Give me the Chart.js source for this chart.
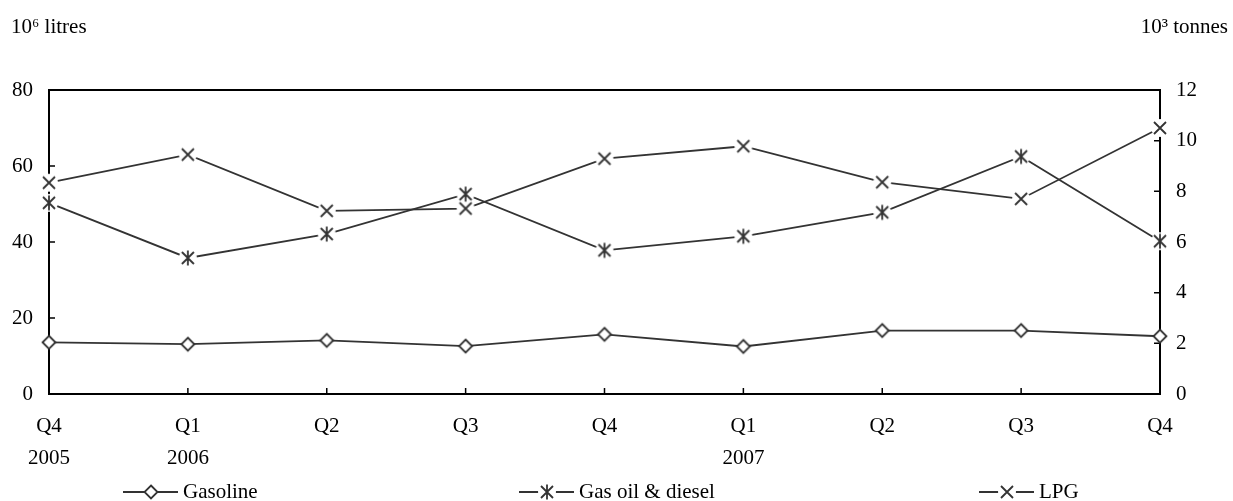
<!DOCTYPE html>
<html>
<head>
<meta charset="utf-8">
<script src="https://cdn.jsdelivr.net/npm/chart.js@4.4.0/dist/chart.umd.min.js"></script>
<style>
  html, body { margin: 0; padding: 0; background: #fff; }
</style>
</head>
<body>
<canvas id="chart" width="1233" height="501"></canvas>
<script>
// Quarterly sales, Q4 2005 - Q4 2007
const quarters = ["Q4", "Q1", "Q2", "Q3", "Q4", "Q1", "Q2", "Q3", "Q4"];
const years = ["2005", "2006", "", "", "", "2007", "", "", ""];
const gasoline = [13.6, 13.1, 14.1, 12.6, 15.7, 12.5, 16.7, 16.7, 15.2];
const gasOilDiesel = [50.3, 35.8, 42.1, 52.6, 37.8, 41.5, 47.8, 62.5, 40.2];
const lpg = [8.34, 9.45, 7.23, 7.32, 9.29, 9.78, 8.36, 7.7, 10.5];
const leftUnit = "10\u2076 litres";
const rightUnit = "10\u00b3 tonnes";

const FONT = "'Liberation Serif', 'Times New Roman', serif";
const INK = "#333";

// small canvases used as point styles (marker with white halo)
function makeMarker(kind) {
  const c = document.createElement("canvas");
  c.width = 24;
  c.height = 24;
  const g = c.getContext("2d");
  g.translate(12, 12);
  g.strokeStyle = INK;
  g.fillStyle = "#fff";
  g.lineWidth = 1.8;
  if (kind === "diamond") {
    g.beginPath();
    g.moveTo(0, -6.5);
    g.lineTo(6.5, 0);
    g.lineTo(0, 6.5);
    g.lineTo(-6.5, 0);
    g.closePath();
    g.fill();
    g.stroke();
  } else {
    g.beginPath();
    g.arc(0, 0, 9, 0, Math.PI * 2);
    g.fill();
    g.beginPath();
    g.moveTo(-6, -6);
    g.lineTo(6, 6);
    g.moveTo(6, -6);
    g.lineTo(-6, 6);
    if (kind === "star") {
      g.moveTo(0, -7.5);
      g.lineTo(0, 7.5);
    }
    g.stroke();
  }
  return c;
}

const markers = {
  diamond: makeMarker("diamond"),
  star: makeMarker("star"),
  cross: makeMarker("cross"),
};

const labels = quarters.map((q, i) => [q, years[i]]);

// frame + inward tick marks, drawn before the datasets so markers sit on top
const framePlugin = {
  id: "frame",
  beforeDatasetsDraw(chart) {
    const { ctx, chartArea: a, scales } = chart;
    ctx.save();
    ctx.strokeStyle = "#000";
    ctx.lineWidth = 2;
    ctx.strokeRect(a.left, a.top, a.right - a.left, a.bottom - a.top);
    ctx.beginPath();
    scales.y.ticks.forEach((t) => {
      const y = scales.y.getPixelForValue(t.value);
      if (y > a.top + 1 && y < a.bottom - 1) {
        ctx.moveTo(a.left, y);
        ctx.lineTo(a.left + 6, y);
      }
    });
    scales.y1.ticks.forEach((t) => {
      const y = scales.y1.getPixelForValue(t.value);
      if (y > a.top + 1 && y < a.bottom - 1) {
        ctx.moveTo(a.right, y);
        ctx.lineTo(a.right - 6, y);
      }
    });
    scales.x.ticks.forEach((t, i) => {
      const x = scales.x.getPixelForTick(i);
      if (x > a.left + 1 && x < a.right - 1) {
        ctx.moveTo(x, a.bottom);
        ctx.lineTo(x, a.bottom - 6);
      }
    });
    ctx.lineWidth = 1.5;
    ctx.stroke();
    ctx.restore();
  },
  afterDraw(chart) {
    const { ctx } = chart;
    ctx.save();
    ctx.fillStyle = "#000";
    ctx.font = "21px " + FONT;
    ctx.textBaseline = "middle";
    ctx.textAlign = "left";
    ctx.fillText(leftUnit, 11, 27);
    ctx.textAlign = "right";
    ctx.fillText(rightUnit, 1228, 27);

    // legend row
    const items = [
      { x: 123, ds: 0 },
      { x: 519, ds: 1 },
      { x: 979, ds: 2 },
    ];
    const y = 492;
    items.forEach((it) => {
      const ds = chart.data.datasets[it.ds];
      ctx.strokeStyle = INK;
      ctx.lineWidth = 1.8;
      ctx.beginPath();
      ctx.moveTo(it.x, y);
      ctx.lineTo(it.x + 55, y);
      ctx.stroke();
      ctx.drawImage(ds.pointStyle, Math.round(it.x + 27.5 - 12), y - 12);
      ctx.textAlign = "left";
      ctx.fillStyle = "#000";
      ctx.fillText(ds.label, it.x + 60, y);
    });
    ctx.restore();
  },
};

const tickFont = { family: FONT, size: 21 };

new Chart(document.getElementById("chart"), {
  type: "line",
  data: {
    labels: labels,
    datasets: [
      {
        label: "Gasoline",
        data: gasoline,
        yAxisID: "y",
        borderColor: INK,
        borderWidth: 1.8,
        pointStyle: markers.diamond,
        pointRadius: 7,
        clip: false,
      },
      {
        label: "Gas oil & diesel",
        data: gasOilDiesel,
        yAxisID: "y",
        borderColor: INK,
        borderWidth: 1.8,
        pointStyle: markers.star,
        pointRadius: 7,
        clip: false,
      },
      {
        label: "LPG",
        data: lpg,
        yAxisID: "y1",
        borderColor: INK,
        borderWidth: 1.8,
        pointStyle: markers.cross,
        pointRadius: 7,
        clip: false,
      },
    ],
  },
  options: {
    responsive: false,
    animation: false,
    devicePixelRatio: 1,
    layout: { padding: { top: 90, right: 0, bottom: 0, left: 0 } },
    plugins: {
      legend: { display: false },
      tooltip: { enabled: false },
    },
    scales: {
      x: {
        offset: false,
        grid: { display: false, drawTicks: false },
        border: { display: false },
        ticks: {
          font: { ...tickFont, lineHeight: 1.52 },
          color: "#000",
          padding: 17,
          maxRotation: 0,
          autoSkip: false,
        },
        afterFit: (s) => {
          s.height = 107;
        },
      },
      y: {
        position: "left",
        min: 0,
        max: 80,
        grid: { display: false, drawTicks: false },
        border: { display: false },
        ticks: { stepSize: 20, padding: 16, font: tickFont, color: "#000" },
        afterFit: (s) => {
          s.width = 49;
        },
      },
      y1: {
        position: "right",
        min: 0,
        max: 12,
        grid: { display: false, drawTicks: false },
        border: { display: false },
        ticks: { stepSize: 2, padding: 16, font: tickFont, color: "#000" },
        afterFit: (s) => {
          s.width = 73;
        },
      },
    },
  },
  plugins: [framePlugin],
});
</script>
</body>
</html>
